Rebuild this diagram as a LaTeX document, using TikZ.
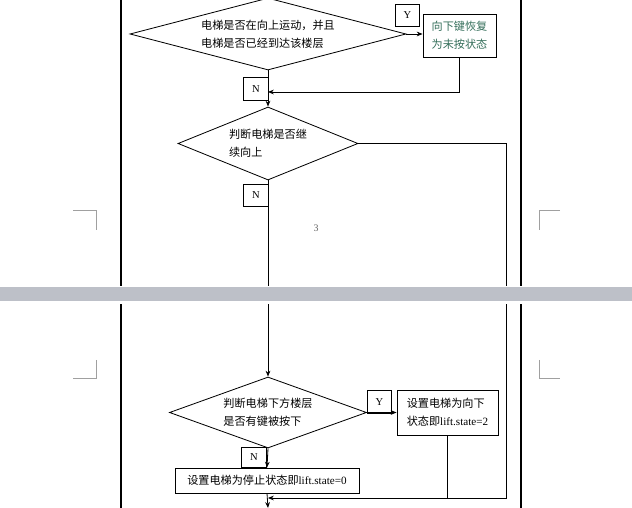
\documentclass[tikz,border=0pt]{standalone}
\usepackage{fontspec}
\setmainfont{Liberation Serif}
\newfontfamily\cjk{Noto Sans CJK SC}
\usepackage{tikz}
\usetikzlibrary{arrows.meta, positioning, calc, shapes.geometric}
\usepackage{xcolor}

\definecolor{keygreen}{RGB}{52,110,90}
\definecolor{pagegray}{RGB}{189,192,200}
\definecolor{markgray}{RGB}{160,160,160}

\begin{document}
\begin{tikzpicture}[
    x=0.03cm, y=-0.03cm,
    >=Stealth,
    decision/.style={diamond, draw, line width=0.7pt, inner sep=0pt, align=left, font=\cjk\fontsize{9.5}{15.3}\selectfont},
    process/.style={rectangle, draw, line width=0.7pt, inner sep=2pt, align=left, font=\cjk\fontsize{9.5}{15.3}\selectfont},
    yn box/.style={rectangle, draw, line width=0.6pt, minimum width=0.74cm, minimum height=0.68cm, inner sep=0pt, font=\fontsize{9}{9}\selectfont},
    flow line/.style={draw, line width=0.7pt},
    flow arrow/.style={draw, line width=0.7pt, -{Stealth[length=5pt, width=4pt]}}
]
    \useasboundingbox (0,0) rectangle (632,508);

    % ==================== PAGE ====================
    % Borders
    \draw[line width=1pt] (121,0) -- (121,508);
    \draw[line width=1pt] (521,0) -- (521,508);
    % Crop marks
    \draw[markgray, line width=0.4pt] (73,210) -- (96,210) -- (96,230);
    \draw[markgray, line width=0.4pt] (96,360) -- (96,378) -- (73,378);
    \draw[markgray, line width=0.4pt] (560,210) -- (539,210) -- (539,230);
    \draw[markgray, line width=0.4pt] (539,360) -- (539,378) -- (560,378);
    % Page number
    \node[text=black!60, font=\fontsize{8.5}{8.5}\selectfont] (pgno) at (316,228) {3};

    % ==================== FLOW NODES ====================
    % Decisions
    \node[decision, aspect=3.83, minimum width=8.28cm, minimum height=2.16cm] (d1) at (268,34)
        {电梯是否在向上运动，并且\\电梯是否已经到达该楼层};
    \node[decision, aspect=2.47, minimum width=5.4cm, minimum height=2.19cm] (d2) at (268,143.5)
        {判断电梯是否继\\续向上};
    \node[decision, aspect=2.77, minimum width=5.91cm, minimum height=2.13cm] (d3) at (268,412.5)
        {判断电梯下方楼层\\是否有键被按下};

    % Actions
    \node[process, text=keygreen, minimum width=2.19cm, minimum height=1.29cm] (recover) at (459.5,35.5)
        {向下键恢复\\为未按状态};
    \node[process, minimum width=3.03cm, minimum height=1.35cm] (setdown) at (447.5,412.5)
        {设置电梯为向下\\状态即{\rmfamily lift.state=2}};
    \node[process, align=center, minimum width=5.52cm, minimum height=0.75cm] (stop) at (267,480.5)
        {设置电梯为停止状态即{\rmfamily lift.state=0}};

    % Y / N labels
    \node[yn box] (y1) at (407.5,15.5) {Y};
    \node[yn box] (n1) at (256,89) {N};
    \node[yn box] (n2) at (256,195.5) {N};
    \node[yn box] (y3) at (379.5,402) {Y};
    \node[yn box, minimum height=0.6cm] (n3) at (254,457) {N};

    % ==================== CONNECTORS ====================
    \coordinate (j1) at (268,92);
    \coordinate (r2) at (506,498);
    \coordinate (j3) at (268,498);
    \coordinate (exit) at (268,508);

    % First decision
    \draw[flow arrow] (d1.east) -- (d1.east -| recover.west);
    \draw[flow arrow] (recover.south) |- (j1);
    \draw[flow arrow] (d1.south) -- (d2.north);
    % Second decision
    \draw[flow arrow] (d2.east) -| (r2) -- (j3);
    \draw[flow arrow] (d2.south) -- (d3.north);
    % Third decision
    \draw[flow arrow] (d3.east) -- (d3.east -| setdown.west);
    \draw[flow line] (setdown.south) -- (setdown.south |- j3);
    \draw[flow arrow] (d3.south) -- (stop.north);
    \draw[flow arrow] (stop.south) -- (exit);

    % ==================== PAGE BREAK ====================
    \fill[white] (0,286) rectangle (632,304);
    \fill[pagegray] (0,287) rectangle (632,301);
\end{tikzpicture}
\end{document}
